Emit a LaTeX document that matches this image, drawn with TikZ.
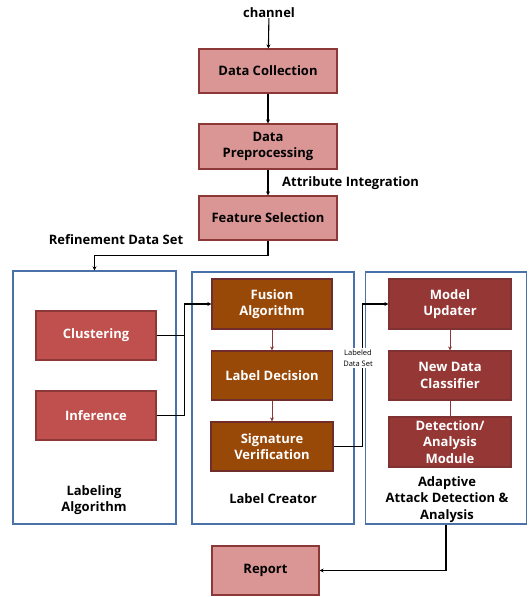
\documentclass[tikz,border=0pt]{standalone}
\usepackage{fontspec}
\setmainfont{Open Sans}[BoldFont={* Bold}]
\usepackage{xcolor}
\usetikzlibrary{arrows.meta, positioning}

\definecolor{pinkfill}{HTML}{D99694}
\definecolor{redfill}{HTML}{C0504D}
\definecolor{brownfill}{HTML}{984807}
\definecolor{darkred}{HTML}{953735}
\definecolor{edgered}{HTML}{8C3836}
\definecolor{edgeblue}{HTML}{4A72A8}

\begin{document}
\begin{tikzpicture}[x=1pt, y=-1pt, >={Stealth[length=4pt, width=4pt]},
  every node/.style={font=\bfseries\fontsize{13}{16.5}\selectfont, inner sep=0pt},
  stage/.style={draw=edgered, line width=1.2pt, fill=pinkfill, align=center},
  algo/.style={draw=edgered, line width=1.2pt, fill=redfill, text=white, align=center},
  creator/.style={draw=edgered!80!black, line width=1.2pt, fill=brownfill, text=white, align=center},
  adapt/.style={draw=edgered!90!black, line width=1.2pt, fill=darkred, text=white, align=center},
  group/.style={draw=edgeblue, line width=1.3pt},
  flow/.style={->, line width=1.1pt},
  inner/.style={->, line width=0.8pt, draw=edgered}]
  \useasboundingbox (0,0) rectangle (529,597);

  % outer group frames
  \node[group, minimum width=163pt, minimum height=253pt] (labalgbox) at (94.5,397.5) {};
  \node[group, minimum width=162pt, minimum height=252pt] (creatorbox) at (273,398) {};
  \node[group, minimum width=161pt, minimum height=252pt] (adaptbox) at (446,398) {};

  % main pipeline
  \node (channel) at (269,13) {channel};
  \node[stage, minimum width=138pt, minimum height=44pt] (collect) at (268,71) {Data Collection};
  \node[stage, minimum width=138pt, minimum height=45pt] (preproc) at (268,146.5) {Data\\Preprocessing};
  \node[stage, minimum width=138pt, minimum height=44pt] (select) at (268,218) {Feature Selection};
  \node[anchor=west] (attrint) at (282,183) {Attribute Integration};
  \node (refine) at (116,240) {Refinement Data Set};

  % labeling algorithm
  \node[algo, minimum width=120pt, minimum height=49pt] (cluster) at (96,335.5) {Clustering};
  \node[algo, minimum width=120pt, minimum height=49pt] (infer) at (96,415.5) {Inference};
  \node[align=center] (labalgtitle) at (94,500) {Labeling\\Algorithm};

  % label creator
  \node[creator, minimum width=120pt, minimum height=50pt] (fusion) at (272,304) {Fusion\\Algorithm};
  \node[creator, minimum width=121pt, minimum height=49pt] (decision) at (272,375.5) {Label Decision};
  \node[creator, minimum width=122pt, minimum height=49pt] (verify) at (272,446.5) {Signature\\Verification};
  \node (creatortitle) at (273,499) {Label Creator};

  % adaptive attack detection
  \node[adapt, minimum width=122pt, minimum height=50pt] (updater) at (450,304) {Model\\Updater};
  \node[adapt, minimum width=122pt, minimum height=49pt] (classifier) at (450,375.5) {New Data\\Classifier};
  \node[adapt, minimum width=122pt, minimum height=50pt] (detect) at (450,442) {Detection/\\Analysis\\Module};
  \node[align=center] (adapttitle) at (447,499.5) {Adaptive\\Attack Detection \&\\Analysis};

  \node[stage, minimum width=107pt, minimum height=49pt] (report) at (265.5,570.5) {Report};

  % connectors
  \draw[flow] (channel) -- (collect);
  \draw[flow] (collect) -- (preproc);
  \draw[flow] (preproc) -- (select);
  \draw[flow] (select.south) -- ++(0,15) -| (labalgbox.north);
  \draw[line width=1.1pt] (cluster.east) -- ++(28,0);
  \draw[flow] (infer.east) -- ++(28,0) |- (fusion.west);
  \draw[inner] (fusion) -- (decision);
  \draw[inner] (decision) -- (verify);
  \draw[flow] (verify.east) -- ++(29,0) |- (updater.west);
  \node[fill=white, align=center, font=\fontsize{7.5}{11.5}\selectfont, inner sep=1pt] (labeled) at (358,358) {Labeled\\Data Set};
  \draw[inner] (updater) -- (classifier);
  \draw[line width=0.8pt, draw=edgered] (classifier) -- (detect);
  \draw[flow] (adaptbox.south) |- (report.east);
\end{tikzpicture}
\end{document}
